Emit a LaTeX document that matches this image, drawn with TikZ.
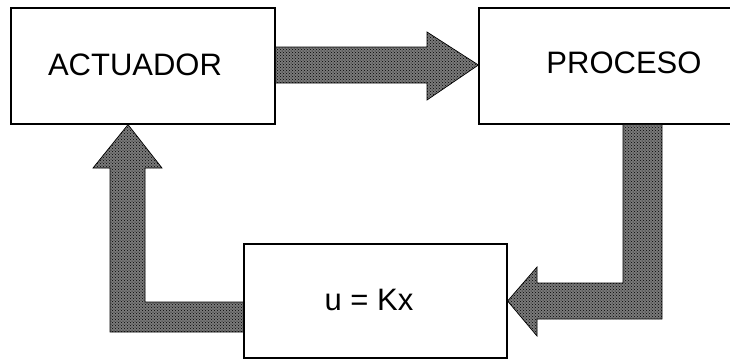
\documentclass[tikz,border=0pt]{standalone}
\usepackage{fontspec}
\setmainfont{Liberation Sans}
\usetikzlibrary{patterns}
\begin{document}
\begin{tikzpicture}[x=1pt,y=-1pt,
  blockbox/.style={draw=black,line width=1.2pt,fill=white,inner sep=0pt},
  lbl/.style={inner sep=0pt,font=\fontsize{31}{35}\selectfont},
  bigarrow/.style={draw=black,line width=0.7pt,fill=black!52,
    postaction={pattern=crosshatch dots,pattern color=black}}]
\useasboundingbox (0,0) rectangle (730,360);
\clip (0,0) rectangle (730,360);

% blocks
\node[blockbox,minimum width=264pt,minimum height=116pt] (act) at (143,66) {};
\node[blockbox,minimum width=262pt,minimum height=116pt] (proc) at (610,66) {};
\node[blockbox,minimum width=263pt,minimum height=114pt] (ctrl) at (375.5,301) {};

% labels
\node[lbl] (actlbl) at (135,65) {ACTUADOR};
\node[lbl] (proclbl) at (624,63) {PROCESO};
\node[lbl] (ctrllbl) at (369,300) {u = Kx};

% actuator -> process
\draw[bigarrow] (act.east |- 0,47) -- (427,47) -- (427,32) -- (proc.west |- 0,65)
  -- (427,100) -- (427,83) -- (act.east |- 0,83) -- cycle;

% process -> control law
\draw[bigarrow] (623,0 |- proc.south) -- (662,0 |- proc.south) -- (662,319) -- (537,319)
  -- (537,336) -- (ctrl.east |- 0,301) -- (537,267) -- (537,283) -- (623,283) -- cycle;

% control law -> actuator
\draw[bigarrow] (ctrl.west |- 0,302) -- (145,302) -- (145,168) -- (162,168)
  -- (128,0 |- act.south) -- (93,168) -- (110,168) -- (110,332) -- (ctrl.west |- 0,332) -- cycle;
\end{tikzpicture}
\end{document}
